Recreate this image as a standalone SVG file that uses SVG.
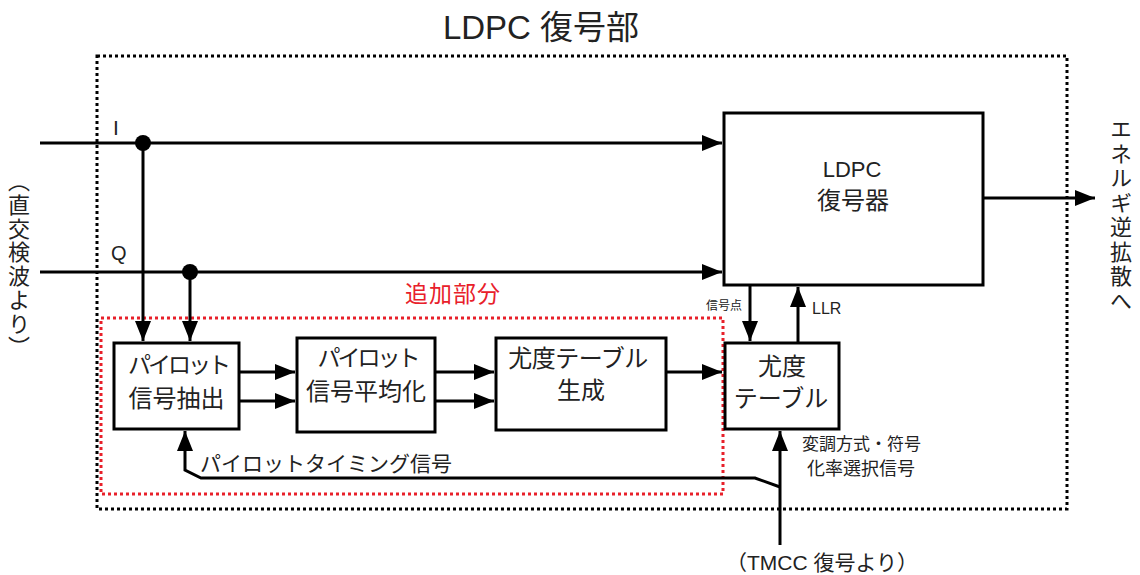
<svg xmlns="http://www.w3.org/2000/svg" width="1140" height="575" viewBox="0 0 1140 575">
<style>
text{font-family:"Liberation Sans","Noto Sans CJK JP",sans-serif;fill:#222;}
.box{fill:#fff;stroke:#000;stroke-width:3;}
.ln{fill:none;stroke:#000;stroke-width:3;}
.t{font-size:24px;text-anchor:middle;}
.k{font-size:23px;text-anchor:middle;letter-spacing:-3px;}
.vt{font-family:"Noto Sans CJK JP",sans-serif;writing-mode:vertical-rl;}
</style>
<defs>
<marker id="a" viewBox="0 0 20 20" refX="20" refY="10" markerWidth="20" markerHeight="20" markerUnits="userSpaceOnUse" orient="auto">
<path d="M0,2 L20,10 L0,18 Z" fill="#000"/>
</marker>
</defs>
<rect x="97" y="56" width="970" height="453" fill="none" stroke="#000" stroke-width="3" stroke-dasharray="3,3"/>
<rect x="101" y="318" width="622" height="176" fill="none" stroke="#e8202a" stroke-width="3" stroke-dasharray="3,3"/>
<text x="541" y="39" font-size="33" text-anchor="middle">LDPC 復号部</text>
<text x="453" y="302" font-size="23" text-anchor="middle" letter-spacing="1" style="fill:#e8202a">追加部分</text>
<g id="connectors">
<path class="ln" d="M40,143 H722" marker-end="url(#a)"/>
<path class="ln" d="M40,272 H722" marker-end="url(#a)"/>
<path class="ln" d="M143,143 V341" marker-end="url(#a)"/>
<path class="ln" d="M190,272 V341" marker-end="url(#a)"/>
<circle cx="143" cy="143" r="8" fill="#000"/>
<circle cx="190" cy="272" r="8" fill="#000"/>
<path class="ln" d="M240,372 H295" marker-end="url(#a)"/>
<path class="ln" d="M240,401 H295" marker-end="url(#a)"/>
<path class="ln" d="M436,372 H494" marker-end="url(#a)"/>
<path class="ln" d="M436,401 H494" marker-end="url(#a)"/>
<path class="ln" d="M667,372 H722" marker-end="url(#a)"/>
<path class="ln" d="M750,286 V341" marker-end="url(#a)"/>
<path class="ln" d="M798,343 V287" marker-end="url(#a)"/>
<path class="ln" d="M984,198 H1095" marker-end="url(#a)"/>
<path class="ln" d="M780,545 V431" marker-end="url(#a)"/>
<path class="ln" d="M780,487 L755,478 H201 L185,470 V431" marker-end="url(#a)"/>
</g>
<g id="n_pilot_extract">
<rect class="box" x="114" y="343" width="125" height="86"/>
<text class="k" x="178" y="373">パイロット</text>
<text class="t" x="176.5" y="407">信号抽出</text>
</g>
<g id="n_pilot_avg">
<rect class="box" x="297" y="338" width="138" height="94"/>
<text class="k" x="367.5" y="366">パイロット</text>
<text class="t" x="366" y="400">信号平均化</text>
</g>
<g id="n_table_gen">
<rect class="box" x="496" y="338" width="170" height="92"/>
<text class="t" x="578" y="367" letter-spacing="-0.5">尤度テーブル</text>
<text class="t" x="581" y="399">生成</text>
</g>
<g id="n_table">
<rect class="box" x="725" y="343" width="114" height="86"/>
<text class="t" x="782" y="375">尤度</text>
<text class="t" x="781" y="407">テーブル</text>
</g>
<g id="n_ldpc">
<rect class="box" x="724" y="113" width="259" height="172"/>
<text x="852" y="177" font-size="22" text-anchor="middle">LDPC</text>
<text class="t" x="853" y="209">復号器</text>
</g>
<text x="113" y="135" font-size="21" font-family="Liberation Serif">I</text>
<text x="111" y="260" font-size="20">Q</text>
<text x="706" y="310" font-size="12">信号点</text>
<text x="812" y="314" font-size="16">LLR</text>
<text x="802" y="450" font-size="17">変調方式・符号</text>
<text x="807" y="475" font-size="18">化率選択信号</text>
<text x="200" y="471" font-size="21">パイロットタイミング信号</text>
<text x="822" y="570" font-size="21" text-anchor="middle">（TMCC 復号より）</text>
<text class="vt" x="19" y="170" font-size="22" letter-spacing="1.7">（直交検波より）</text>
<text class="vt" x="1121" y="118" font-size="22" letter-spacing="2.5">エネルギ逆拡散へ</text>
</svg>
